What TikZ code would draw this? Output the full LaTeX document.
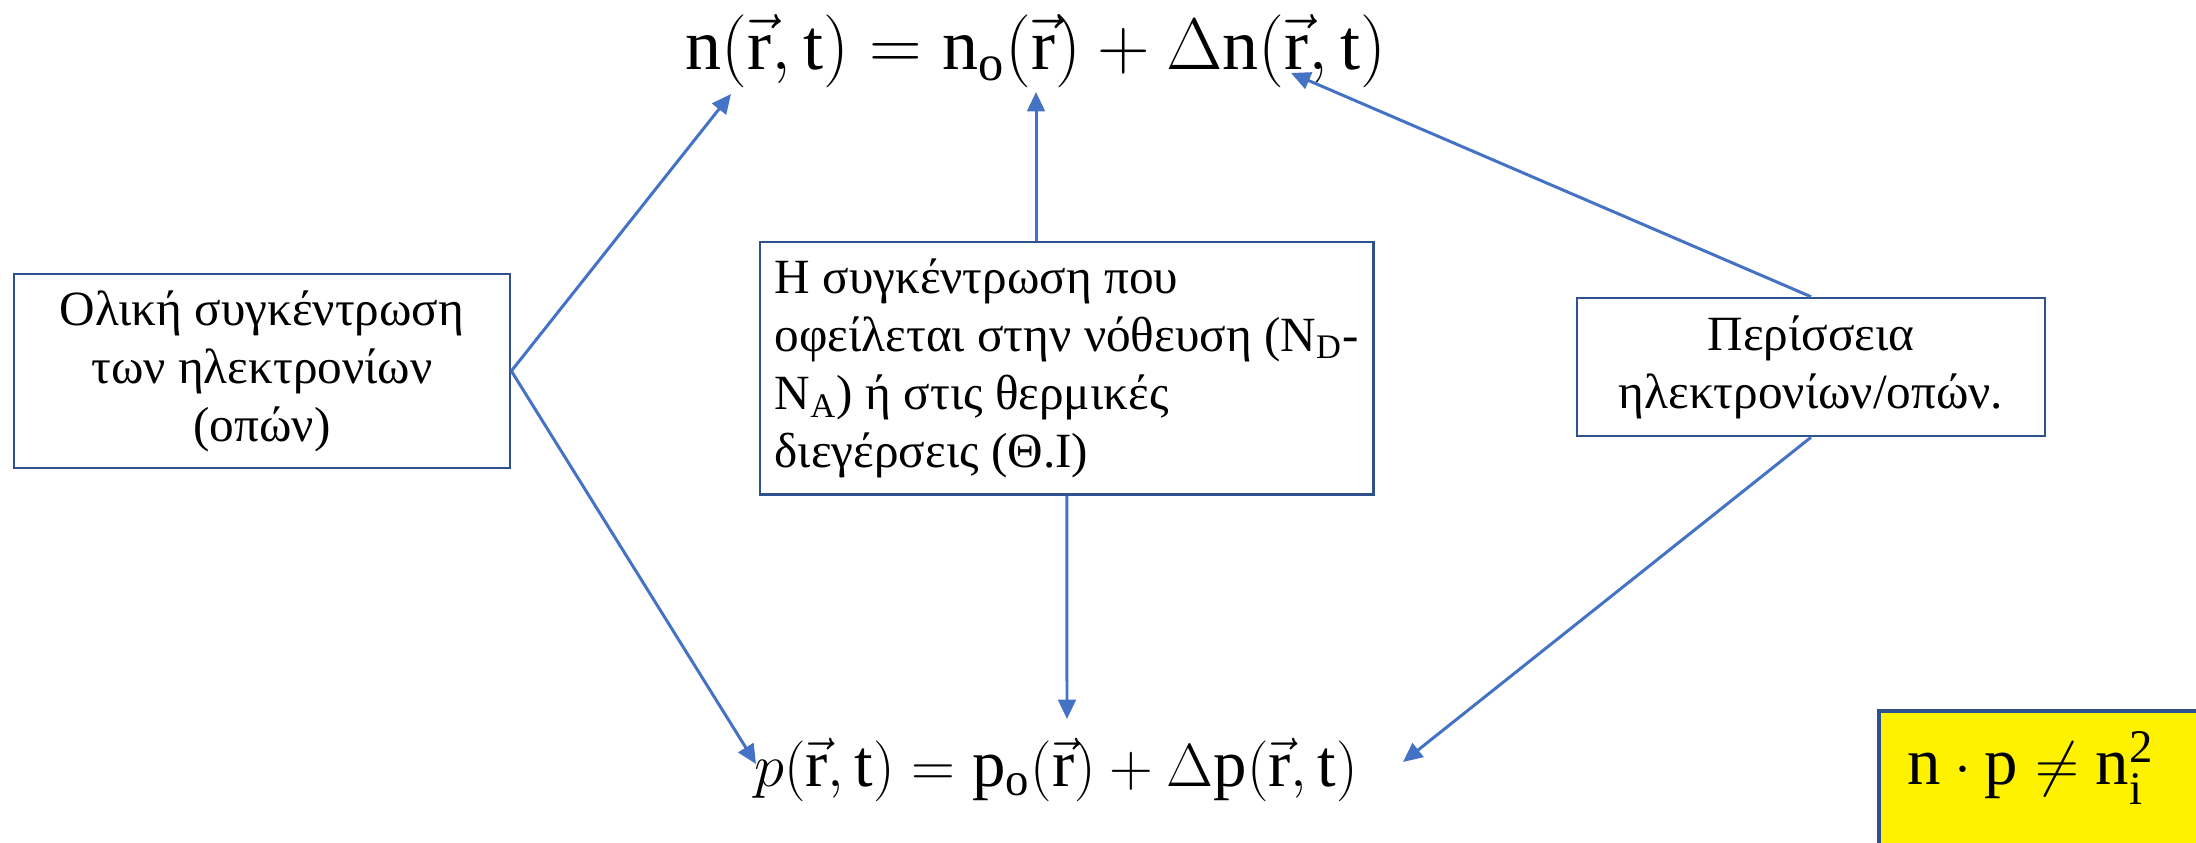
\documentclass[tikz,border=0pt]{standalone}
\usepackage{amsmath,amssymb}
\usepackage{fontspec}
\setmainfont{Liberation Serif}
\usetikzlibrary{arrows.meta,positioning}

\definecolor{boxline}{HTML}{2F528F}
\definecolor{arrowblue}{HTML}{4472C4}

\tikzset{
  infobox/.style={draw=boxline, line width=0.7pt, inner sep=4pt,
    font=\fontsize{14}{16.5}\selectfont},
  eqnode/.style={inner sep=0pt, font=\fontsize{19}{22}\selectfont},
  link/.style={draw=arrowblue, line width=0.85pt,
    -{Triangle[length=5.5pt,width=5pt]}}
}

\begin{document}
\begin{tikzpicture}[x=0.01cm,y=-0.01cm]
  \useasboundingbox (0,0) rectangle (2196,843);
  % equations
  \node[eqnode, font=\fontsize{20.5}{24}\selectfont] (neq) at (1036,51)
    {$\mathrm{n}(\vec{\mathrm{r}},\mathrm{t}) = \mathrm{n_o}(\vec{\mathrm{r}}) + \Delta\mathrm{n}(\vec{\mathrm{r}},\mathrm{t})$};
  \node[eqnode] (peq) at (1056,770)
    {$p(\vec{\mathrm{r}},\mathrm{t}) = \mathrm{p_o}(\vec{\mathrm{r}}) + \Delta\mathrm{p}(\vec{\mathrm{r}},\mathrm{t})$};
  % boxes
  \node[infobox, minimum width=4.96cm, minimum height=1.94cm, align=center] (total) at (262,371)
    {Ολική συγκέντρωση\\των ηλεκτρονίων\\(οπών)};
  \node[infobox, minimum width=6.13cm, minimum height=2.52cm, align=left, anchor=north west] (equil) at (759,241)
    {Η συγκέντρωση που\\οφείλεται στην νόθευση (N$_\mathrm{D}$-\\N$_\mathrm{A}$) ή στις θερμικές\\διεγέρσεις (Θ.Ι)};
  \node[infobox, minimum width=4.68cm, minimum height=1.38cm, align=center] (excess) at (1811,367)
    {Περίσσεια\\ηλεκτρονίων/οπών.};
  % yellow box, runs off the page
  \filldraw[draw=boxline, line width=1pt, fill=yellow] (1879,711) rectangle (2240,900);
  \node[eqnode] (law) at (2031,768) {$\mathrm{n}\cdot\mathrm{p}\neq\mathrm{n_i^2}$};
  % arrow ends
  \coordinate (nA) at (731,94);
  \coordinate (nB) at (1036,92);
  \coordinate (nC) at (1291,73);
  \coordinate (pA) at (756,764);
  \coordinate (pB) at (1067,719);
  \coordinate (pC) at (1403,762);
  \coordinate (equiltop) at (1036,241);
  % connectors
  \draw[link] (total.east) -- (nA);
  \draw[link] (total.east) -- (pA);
  \draw[link] (equiltop) -- (nB);
  \draw[link] (equil.south) -- (pB);
  \draw[link] (excess.north) -- (nC);
  \draw[link] (excess.south) -- (pC);
\end{tikzpicture}
\end{document}
